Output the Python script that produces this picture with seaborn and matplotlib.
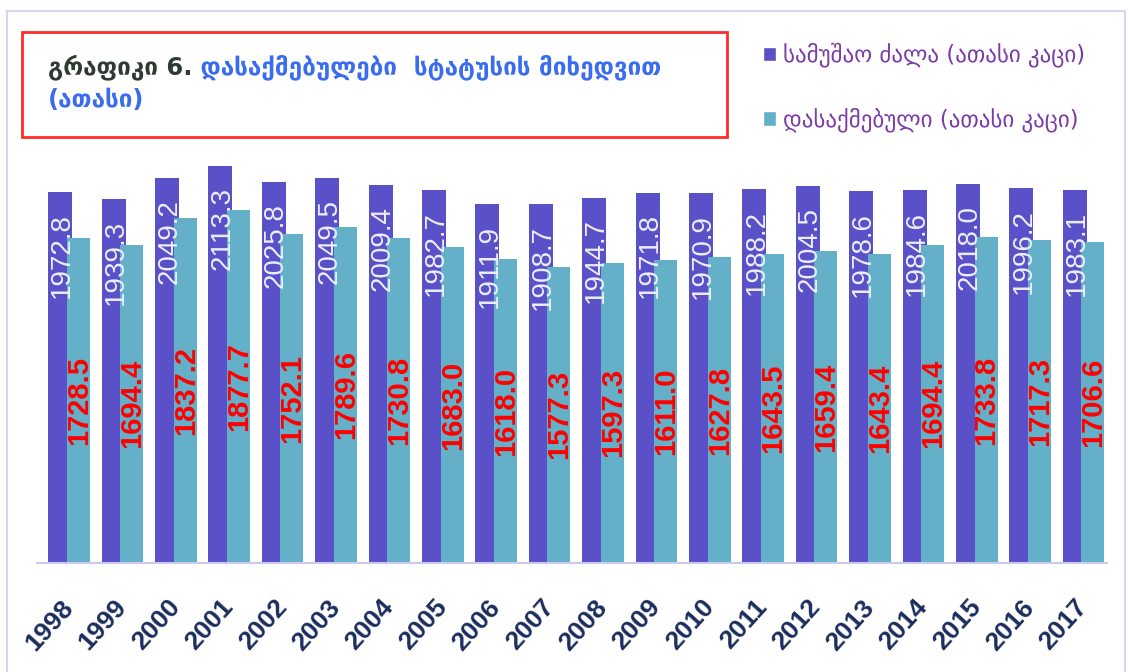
# %% import libraries
import seaborn as sns
import pandas as pd
import matplotlib.pyplot as plt
from matplotlib.patches import Rectangle, Patch

# %% data
years = [str(y) for y in range(1998, 2018)]
labour_force = [1972.8, 1939.3, 2049.2, 2113.3, 2025.8, 2049.5, 2009.4, 1982.7, 1911.9, 1908.7,
                1944.7, 1971.8, 1970.9, 1988.2, 2004.5, 1978.6, 1984.6, 2018.0, 1996.2, 1983.1]
employed = [1728.5, 1694.4, 1837.2, 1877.7, 1752.1, 1789.6, 1730.8, 1683.0, 1618.0, 1577.3,
            1597.3, 1611.0, 1627.8, 1643.5, 1659.4, 1643.4, 1694.4, 1733.8, 1717.3, 1706.6]
series_names = ["სამუშაო ძალა (ათასი კაცი)", "დასაქმებული (ათასი კაცი)"]
title_head = "გრაფიკი 6."
title_rest = " დასაქმებულები  სტატუსის მიხედვით"
title_line2 = "(ათასი)"

df = pd.DataFrame({
    "year": years * 2,
    "value": labour_force + employed,
    "series": [series_names[0]] * len(years) + [series_names[1]] * len(years),
})

# %% style
sns.set_style("white")
plt.rcParams["font.family"] = ["Liberation Sans", "DejaVu Sans"]

purple = "#5a50c8"
teal = "#63b0c8"

fig = plt.figure(figsize=(11.28, 6.72), dpi=100)
ax = fig.add_axes([37 / 1128, 1 - 563 / 672, 1070 / 1128, 413 / 672])

sns.barplot(data=df, x="year", y="value", hue="series", palette=[purple, teal],
            saturation=1, width=0.8, linewidth=0, ax=ax)

# bars overlap a little in the original
for p in ax.containers[0]:
    p.set_x(p.get_x() + 0.01)
    p.set_width(0.45)
for p in ax.containers[1]:
    p.set_x(p.get_x() - 0.04)
    p.set_width(0.43)

# %% value labels
for p, v in zip(ax.containers[0], labour_force):
    ax.annotate(f"{v:.1f}", xy=(p.get_x() + p.get_width() / 2 + 0.04, v), xytext=(0, -15),
                textcoords="offset points", rotation=90, ha="center", va="top",
                color="#eeedfb", fontsize=20)
for p, v in zip(ax.containers[1], employed):
    ax.text(p.get_x() + p.get_width() / 2 + 0.01, v / 2, f"{v:.1f}", rotation=90,
            ha="center", va="center", color="#ff0000", fontsize=21, fontweight="bold")

# %% axes
ax.set_xlim(-0.6, 19.44)
ax.set_ylim(0, 2198)
ax.set_xlabel("")
ax.set_ylabel("")
ax.set_yticks([])
for s in ["top", "left", "right"]:
    ax.spines[s].set_visible(False)
ax.spines["bottom"].set_color("#cdc9ee")
ax.spines["bottom"].set_linewidth(1.5)
ax.tick_params(axis="x", length=0, pad=29)
for lbl in ax.get_xticklabels():
    lbl.set_rotation(48)
    lbl.set_ha("right")
    lbl.set_va("center")
    lbl.set_rotation_mode("anchor")
    lbl.set_fontweight("bold")
    lbl.set_fontsize(19)
    lbl.set_color("#1b2d5c")

# %% legend
ax.get_legend().remove()
handles = [Patch(facecolor=purple), Patch(facecolor=teal)]
fig.legend(handles, series_names, loc="upper left", bbox_to_anchor=(742 / 1128, 1 - 22 / 672),
           frameon=False, labelcolor="#7a3aa8", handlelength=0.6,
           handleheight=0.6, handletextpad=0.3, labelspacing=1.75,
           prop={"family": "DejaVu Sans", "size": 16.5})

# %% title box
t1 = fig.text(48 / 1128, 1 - 67 / 672, title_head, family="DejaVu Sans", fontweight="bold",
              fontsize=17.5, color="#2f3a33", va="center", ha="left")
ax.annotate(title_rest, xy=(1, 0.5), xycoords=t1, va="center", ha="left",
            family="DejaVu Sans", fontweight="bold", fontsize=17.5, color="#3a6cf0")
fig.text(48 / 1128, 1 - 100 / 672, title_line2, family="DejaVu Sans", fontweight="bold",
         fontsize=17.5, color="#3a6cf0", va="center", ha="left")
fig.add_artist(Rectangle((22 / 1128, 1 - 137 / 672), 705 / 1128, 105 / 672,
                         transform=fig.transFigure, fill=False, ec="#ff2a2a", lw=2))
fig.add_artist(Rectangle((7 / 1128, -0.05), 1118 / 1128, 1.05 - 11 / 672,
                         transform=fig.transFigure, fill=False, ec="#d8d4f2", lw=1.5))

plt.savefig("out.png", dpi=100)
